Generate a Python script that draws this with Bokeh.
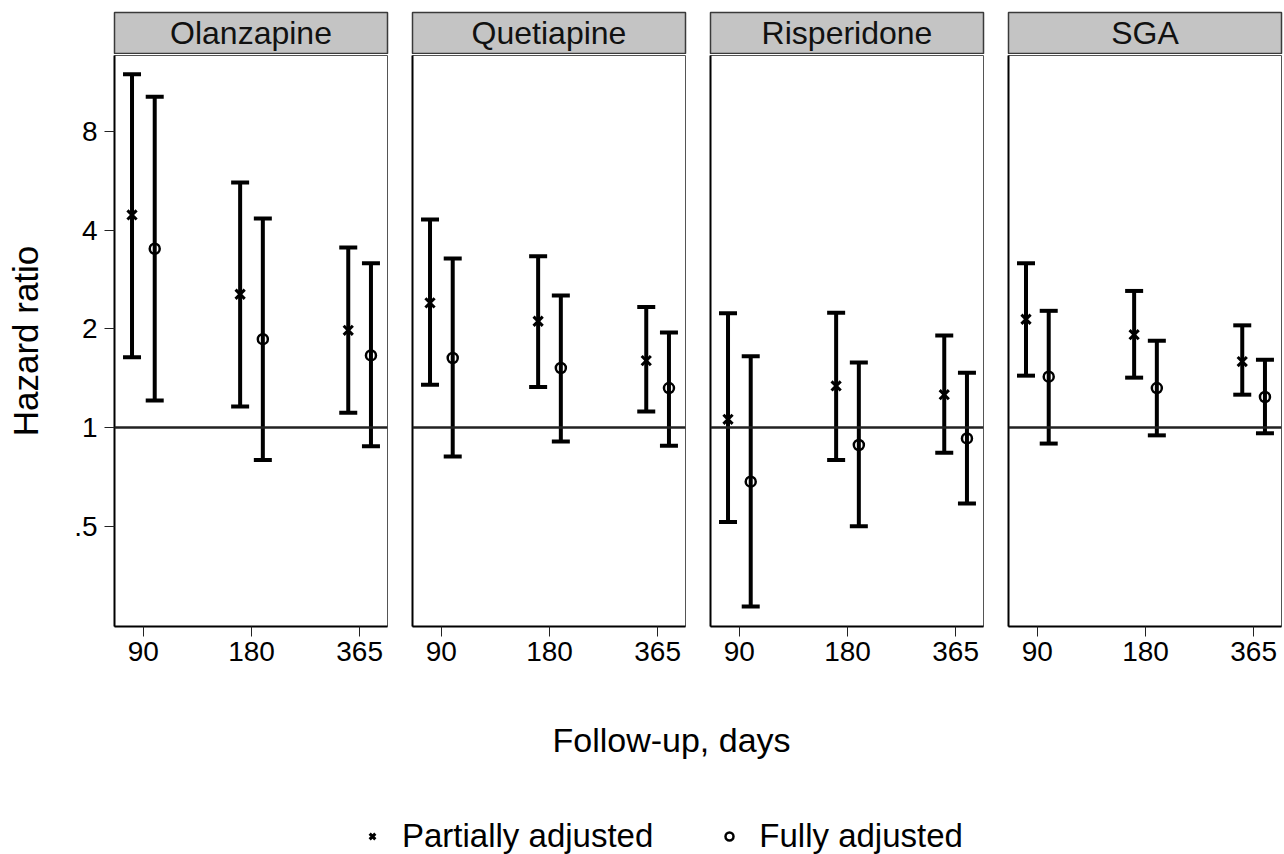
from bokeh.plotting import figure
from bokeh.models import (ColumnDataSource, Whisker, TeeHead, Span, Range1d,
                          FixedTicker, Legend, LegendItem)
from bokeh.layouts import row, column
from bokeh.embed import file_html
from bokeh.resources import INLINE
from bokeh.core.properties import value

# ---------------- data ----------------
drugs = ["Olanzapine", "Quetiapine", "Risperidone", "SGA"]
days = ["90", "180", "365"]
y_ticks = [0.5, 1, 2, 4, 8]
y_tick_labels = [".5", "1", "2", "4", "8"]
series_labels = ["Partially adjusted", "Fully adjusted"]

# Olanzapine
olz_partial_hr = [4.45, 2.55, 1.98]
olz_partial_lo = [1.64, 1.16, 1.11]
olz_partial_hi = [11.95, 5.59, 3.54]
olz_full_hr = [3.51, 1.86, 1.66]
olz_full_lo = [1.21, 0.796, 0.877]
olz_full_hi = [10.2, 4.34, 3.17]

# Quetiapine
que_partial_hr = [2.40, 2.11, 1.60]
que_partial_lo = [1.35, 1.33, 1.12]
que_partial_hi = [4.31, 3.33, 2.33]
que_full_hr = [1.63, 1.52, 1.32]
que_full_lo = [0.816, 0.907, 0.88]
que_full_hi = [3.28, 2.53, 1.95]

# Risperidone
ris_partial_hr = [1.06, 1.34, 1.26]
ris_partial_lo = [0.515, 0.796, 0.838]
ris_partial_hi = [2.23, 2.24, 1.91]
ris_full_hr = [0.684, 0.885, 0.927]
ris_full_lo = [0.285, 0.50, 0.587]
ris_full_hi = [1.65, 1.58, 1.47]

# SGA
sga_partial_hr = [2.14, 1.92, 1.59]
sga_partial_lo = [1.44, 1.42, 1.26]
sga_partial_hi = [3.17, 2.61, 2.05]
sga_full_hr = [1.43, 1.32, 1.24]
sga_full_lo = [0.894, 0.947, 0.961]
sga_full_hi = [2.27, 1.84, 1.61]

panel_data = [
    (olz_partial_hr, olz_partial_lo, olz_partial_hi, olz_full_hr, olz_full_lo, olz_full_hi),
    (que_partial_hr, que_partial_lo, que_partial_hi, que_full_hr, que_full_lo, que_full_hi),
    (ris_partial_hr, ris_partial_lo, ris_partial_hi, ris_full_hr, ris_full_lo, ris_full_hi),
    (sga_partial_hr, sga_partial_lo, sga_partial_hi, sga_full_hr, sga_full_lo, sga_full_hi),
]

# ---------------- style / layout ----------------
FONT = "Liberation Sans"
FRAME_W = 273
LEFT0 = 114
GAP = 25
RB = 2
STRIP_H = 54
PANEL_H = 622
BOTTOM_H = 178
TOTAL_W = LEFT0 + FRAME_W + RB + 3 * (GAP - RB + FRAME_W + RB)

xpos = [i + 1 for i in range(len(days))]
OFF = 0.105

strips = []
panels = []
for k, name in enumerate(drugs):
    lb = LEFT0 if k == 0 else GAP - RB
    w = lb + FRAME_W + RB

    # ---- strip header ----
    s = figure(width=w, height=STRIP_H, x_range=Range1d(0, 1), y_range=Range1d(0, 1),
               output_backend="svg", toolbar_location=None,
               min_border_left=lb, min_border_right=RB, min_border_top=12, min_border_bottom=1)
    s.axis.visible = False
    s.grid.visible = False
    s.background_fill_color = "#c4c4c4"
    s.border_fill_color = "white"
    s.outline_line_color = "#3a3a3a"
    s.outline_line_width = 1.5
    s.text(x=[0.5], y=[0.5], text=[name], text_align="center", text_baseline="middle",
           text_font=value(FONT), text_font_size="32px", text_color="#111111")
    strips.append(s)

    # ---- data panel ----
    p = figure(width=w, height=PANEL_H, y_axis_type="log",
               x_range=Range1d(0.733, 3.258), y_range=Range1d(0.2475, 13.63),
               output_backend="svg", toolbar_location=None,
               min_border_left=lb, min_border_right=RB, min_border_top=1, min_border_bottom=50)
    p.grid.visible = False
    p.outline_line_color = "#555555"
    p.outline_line_width = 1
    p.background_fill_color = "white"

    ph, plo, phi, fh, flo, fhi = panel_data[k]
    src_p = ColumnDataSource(dict(x=[v - OFF for v in xpos], hr=ph, lo=plo, hi=phi))
    src_f = ColumnDataSource(dict(x=[v + OFF for v in xpos], hr=fh, lo=flo, hi=fhi))

    p.add_layout(Span(location=1, dimension="width", line_color="#222222", line_width=2.5))

    for src in (src_p, src_f):
        wk = Whisker(source=src, base="x", lower="lo", upper="hi", dimension="height",
                     line_color="black", line_width=4,
                     upper_head=TeeHead(size=18, line_color="black", line_width=4),
                     lower_head=TeeHead(size=18, line_color="black", line_width=4))
        p.add_layout(wk)

    p.scatter("x", "hr", source=src_p, marker="x", size=13,
              line_color="black", line_width=3)
    p.scatter("x", "hr", source=src_f, marker="circle", size=10,
              line_color="black", line_width=2.5, fill_color=None)

    # x axis
    p.xaxis.ticker = FixedTicker(ticks=xpos)
    p.xaxis.major_label_overrides = {xpos[i]: days[i] for i in range(len(days))}
    p.xaxis.major_label_text_font = FONT
    p.xaxis.major_label_text_font_size = "28px"
    p.xaxis.major_label_text_color = "black"
    p.xaxis.major_label_standoff = 5
    p.xaxis.major_tick_out = 10
    p.xaxis.major_tick_in = 0
    p.xaxis.major_tick_line_color = "#222222"
    p.xaxis.minor_tick_line_color = None
    p.xaxis.axis_line_color = "black"
    p.xaxis.axis_line_width = 2

    # y axis
    p.yaxis.minor_tick_line_color = None
    p.yaxis.axis_line_color = "black"
    p.yaxis.axis_line_width = 2
    if k == 0:
        p.yaxis.ticker = FixedTicker(ticks=y_ticks)
        p.yaxis.major_label_overrides = {y_ticks[i]: y_tick_labels[i] for i in range(len(y_ticks))}
        p.yaxis.major_label_text_font = FONT
        p.yaxis.major_label_text_font_size = "28px"
        p.yaxis.major_label_text_color = "black"
        p.yaxis.major_label_standoff = 7
        p.yaxis.major_tick_out = 10
        p.yaxis.major_tick_in = 0
        p.yaxis.major_tick_line_color = "#222222"
        p.yaxis.axis_label = "Hazard ratio"
        p.yaxis.axis_label_text_font = FONT
        p.yaxis.axis_label_text_font_size = "35px"
        p.yaxis.axis_label_text_font_style = "normal"
        p.yaxis.axis_label_text_color = "black"
        p.yaxis.axis_label_standoff = 26
    else:
        p.yaxis.ticker = FixedTicker(ticks=[])
        p.yaxis.major_tick_out = 0
        p.yaxis.major_tick_in = 0
        p.yaxis.major_tick_line_color = None
    panels.append(p)

# ---------------- bottom: x title + legend ----------------
b = figure(width=TOTAL_W, height=BOTTOM_H, x_range=Range1d(0, TOTAL_W), y_range=Range1d(0, BOTTOM_H),
           output_backend="svg", toolbar_location=None,
           min_border_left=0, min_border_right=0, min_border_top=0, min_border_bottom=0)
b.axis.visible = False
b.grid.visible = False
b.outline_line_color = None
b.text(x=[671], y=[115], text=["Follow-up, days"], text_align="center", text_baseline="middle",
       text_font=value(FONT), text_font_size="34px", text_color="black")

# legend proxies (kept outside the visible range)
lg_p = b.scatter(x=[-1000], y=[-1000], marker="x", size=12, line_color="black", line_width=3)
lg_f = b.scatter(x=[-1000], y=[-1000], marker="circle", size=10, line_color="black",
                 line_width=2.5, fill_color=None)
legend = Legend(items=[LegendItem(label=series_labels[0], renderers=[lg_p]),
                       LegendItem(label=series_labels[1], renderers=[lg_f])],
                orientation="horizontal", location=(362, -1),
                glyph_width=20, glyph_height=38, label_height=38,
                label_standoff=20, spacing=66,
                padding=0, margin=0, border_line_color=None, background_fill_alpha=0,
                label_text_font=FONT, label_text_font_size="33px", label_text_color="black")
b.add_layout(legend)

layout = column(row(*strips), row(*panels), b)
open("out.html", "w").write(file_html(layout, INLINE))
